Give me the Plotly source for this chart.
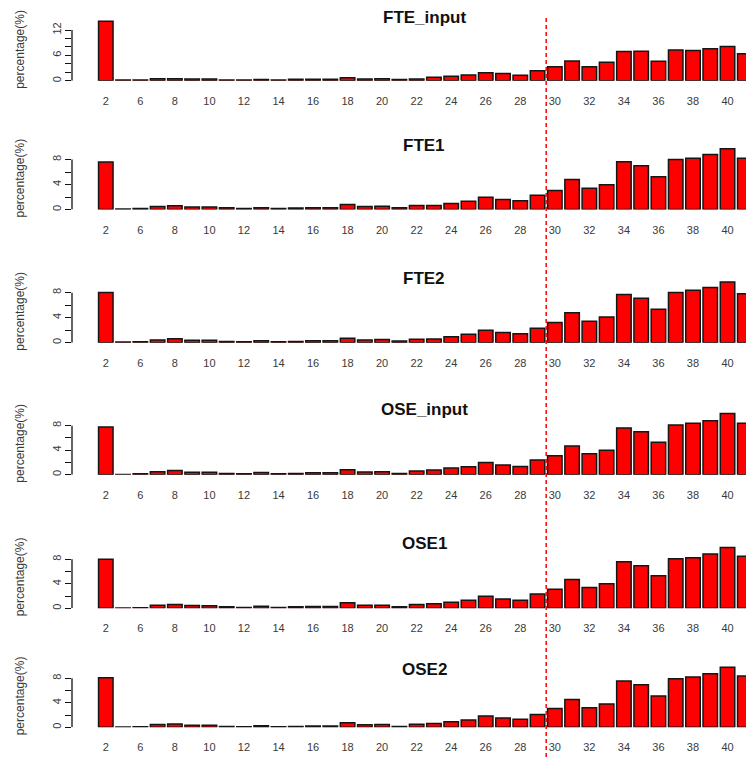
import plotly.graph_objects as go

# ---------------- data ----------------
categories = ["2", "4", "6", "7", "8", "9", "10", "11", "12", "13", "14", "15", "16", "17",
              "18", "19", "20", "21", "22", "23", "24", "25", "26", "27", "28", "29", "30",
              "31", "32", "33", "34", "35", "36", "37", "38", "39", "40", "41"]

fte_input = [14.1, 0.2, 0.2, 0.5, 0.5, 0.4, 0.4, 0.2, 0.2, 0.3, 0.2, 0.35, 0.35, 0.35,
             0.7, 0.45, 0.5, 0.3, 0.4, 0.85, 1.1, 1.4, 1.9, 1.75, 1.3, 2.4, 3.3,
             4.7, 3.35, 4.4, 6.9, 7.0, 4.6, 7.3, 7.15, 7.6, 8.1, 6.4]
fte1 = [7.6, 0.1, 0.15, 0.5, 0.6, 0.4, 0.4, 0.3, 0.15, 0.3, 0.15, 0.25, 0.3, 0.3,
        0.8, 0.5, 0.53, 0.27, 0.64, 0.64, 0.96, 1.33, 1.97, 1.6, 1.39, 2.29, 3.04,
        4.8, 3.41, 3.95, 7.63, 6.99, 5.23, 8.0, 8.21, 8.8, 9.71, 8.21]
fte2 = [8.05, 0.1, 0.15, 0.45, 0.65, 0.4, 0.4, 0.2, 0.15, 0.3, 0.15, 0.2, 0.3, 0.3,
        0.7, 0.45, 0.5, 0.27, 0.55, 0.6, 0.95, 1.35, 2.0, 1.65, 1.45, 2.3, 3.25,
        4.8, 3.45, 4.1, 7.7, 7.1, 5.35, 8.05, 8.4, 8.85, 9.7, 7.85]
ose_input = [7.8, 0.05, 0.15, 0.5, 0.7, 0.4, 0.4, 0.2, 0.15, 0.35, 0.15, 0.2, 0.3, 0.3,
             0.8, 0.45, 0.5, 0.2, 0.6, 0.75, 1.1, 1.3, 2.0, 1.6, 1.35, 2.4, 3.1,
             4.7, 3.4, 4.0, 7.6, 7.0, 5.3, 8.1, 8.4, 8.8, 10.0, 8.4]
ose1 = [8.0, 0.05, 0.1, 0.5, 0.6, 0.45, 0.4, 0.25, 0.15, 0.35, 0.15, 0.25, 0.3, 0.3,
        0.9, 0.5, 0.5, 0.25, 0.6, 0.75, 1.0, 1.3, 1.95, 1.5, 1.3, 2.35, 3.1,
        4.7, 3.4, 4.0, 7.6, 6.95, 5.3, 8.1, 8.25, 8.85, 9.9, 8.5]
ose2 = [8.1, 0.05, 0.1, 0.45, 0.55, 0.35, 0.35, 0.15, 0.1, 0.25, 0.1, 0.15, 0.2, 0.2,
        0.75, 0.4, 0.45, 0.15, 0.5, 0.6, 0.9, 1.2, 1.85, 1.5, 1.3, 2.1, 3.05,
        4.55, 3.2, 3.8, 7.55, 6.95, 5.1, 7.9, 8.2, 8.75, 9.8, 8.35]

panel_names = ["FTE_input", "FTE1", "FTE2", "OSE_input", "OSE1", "OSE2"]
panel_values = [fte_input, fte1, fte2, ose_input, ose1, ose2]

x_tick_labels = ["2", "6", "8", "10", "12", "14", "16", "18", "20", "22", "24",
                 "26", "28", "30", "32", "34", "36", "38", "40"]
y_ticks_big = [0, 2, 4, 6, 8, 10, 12]
y_text_big = ["0", "", "", "6", "", "", "12"]
y_ticks_small = [0, 2, 4, 6, 8]
y_text_small = ["0", "", "4", "", "8"]
y_title = "percentage(%)"
threshold_left, threshold_right = "29", "30"

# ---------------- layout (pixels) ----------------
W, H = 746, 757
baselines = [80.8, 209.5, 342.7, 474.7, 608.3, 727.3]
scales = [4.23, 6.25, 6.25, 6.13, 6.13, 6.13]
title_px = [18, 146, 278, 410, 543, 669]
panel_h = 66
plot_left = 72
x_range = [-1.957, 37.07]

def py(p):
    return 1 - p / H

fig = go.Figure()
font_fam = "Liberation Sans, Arial, sans-serif"
layout = dict(
    width=W, height=H, margin=dict(l=0, r=0, t=0, b=0),
    paper_bgcolor="white", plot_bgcolor="white",
    showlegend=False, bargap=0.16,
    font=dict(family=font_fam),
)
shapes = []
annotations = []

for i, (name, vals) in enumerate(zip(panel_names, panel_values)):
    k = i + 1
    sx = "" if k == 1 else str(k)
    fig.add_trace(go.Bar(
        x=categories, y=vals, xaxis="x" + sx, yaxis="y" + sx,
        marker=dict(color="#ff0000", line=dict(color="#151515", width=1.5)),
        hoverinfo="x+y",
    ))
    b = baselines[i]
    layout["xaxis" + sx] = dict(
        domain=[plot_left / W, 1], anchor="y" + sx, range=x_range,
        type="category", categoryorder="array", categoryarray=categories,
        tickmode="array", tickvals=x_tick_labels, ticktext=x_tick_labels,
        showline=False, ticks="", showgrid=False, zeroline=False,
        tickfont=dict(size=11, color="#3a3a3a", family=font_fam),
        ticklabelstandoff=12,
    )
    if i == 0:
        tv, tt = y_ticks_big, y_text_big
    else:
        tv, tt = y_ticks_small, y_text_small
    layout["yaxis" + sx] = dict(
        domain=[py(b), py(b - panel_h)], anchor="x" + sx,
        range=[0, panel_h / scales[i]],
        tickmode="array", tickvals=tv, ticktext=tt,
        ticks="outside", ticklen=6, tickwidth=1.2, tickcolor="#111111",
        showline=False, showgrid=False, zeroline=False, tickangle=-90,
        tickfont=dict(size=11, color="#3a3a3a", family=font_fam),
        ticklabelstandoff=0,
    )
    shapes.append(dict(
        type="line", xref="x" + sx + " domain", yref="y" + sx,
        x0=0, x1=0, y0=0, y1=max(tv), line=dict(color="#111111", width=1.3),
    ))
    annotations.append(dict(
        text="<b>" + name + "</b>", xref="paper", yref="paper",
        x=424 / W, y=py(title_px[i]), xanchor="center", yanchor="middle",
        showarrow=False, font=dict(size=17, color="#111111", family=font_fam),
    ))
    annotations.append(dict(
        text=y_title, xref="paper", yref="paper", textangle=-90,
        x=20 / W, y=py(b - 31), xanchor="center", yanchor="middle",
        showarrow=False, font=dict(size=12, color="#3a3a3a", family=font_fam),
    ))

thr = (categories.index(threshold_left) + categories.index(threshold_right)) / 2
shapes.append(dict(
    type="line", xref="x", yref="paper", x0=thr, x1=thr, y0=0, y1=py(18),
    line=dict(color="#ff0000", width=1.5, dash="4px,3px"), layer="above",
))

layout["shapes"] = shapes
layout["annotations"] = annotations
fig.update_layout(**layout)
fig.write_html("out.html")
